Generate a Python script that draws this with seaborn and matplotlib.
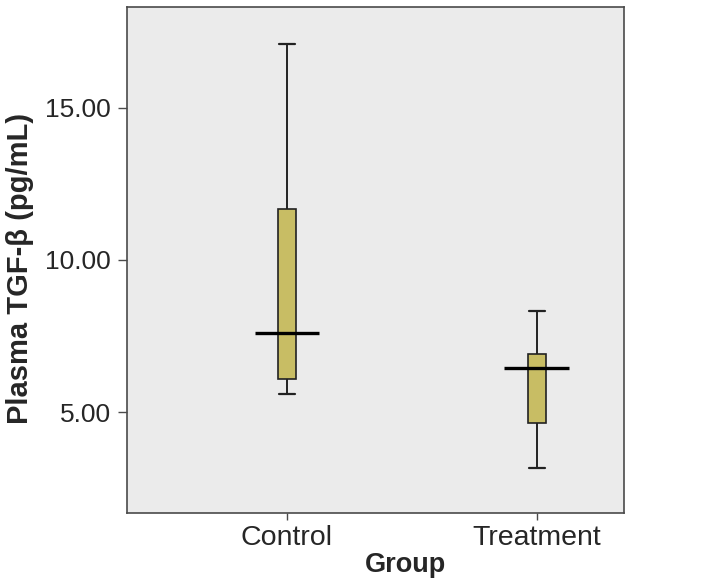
import numpy as np
import pandas as pd
import matplotlib
matplotlib.use("Agg")
import matplotlib.pyplot as plt
import seaborn as sns

groups = ["Control", "Treatment"]
# five-number summaries: min, Q1, median, Q3, max
control_vals = [5.59, 6.08, 7.61, 11.67, 17.07]
treatment_vals = [3.16, 4.64, 6.44, 6.90, 8.33]
medians = [7.61, 6.44]
yticks = [5.0, 10.0, 15.0]
ytick_labels = ["5.00", "10.00", "15.00"]

df = pd.DataFrame({
    "Group": [groups[0]] * len(control_vals) + [groups[1]] * len(treatment_vals),
    "Value": control_vals + treatment_vals,
})

sns.set_style("white")
plt.rcParams["font.family"] = ["Liberation Sans", "DejaVu Sans"]

fig = plt.figure(figsize=(7.27, 5.85), dpi=100)
ax = fig.add_axes([0.1747, 0.1231, 0.6836, 0.8649])
ax.set_facecolor("#ebebeb")

edge = "#222222"
sns.boxplot(data=df, x="Group", y="Value", order=groups, ax=ax,
            color="#c8bd64", width=0.072, whis=np.inf, linewidth=1.2,
            linecolor=edge, saturation=1,
            boxprops=dict(edgecolor=edge, facecolor="#c8bd64"),
            whiskerprops=dict(color=edge, linewidth=1.4),
            capprops=dict(color=edge, linewidth=1.6),
            medianprops=dict(linewidth=0))

# widen caps
for ln in ax.lines:
    x, y = ln.get_data()
    x = np.asarray(x, dtype=float)
    y = np.asarray(y, dtype=float)
    if len(x) == 2 and y[0] == y[1] and ln.get_linewidth() > 0:
        c = x.mean()
        ln.set_xdata([c - 0.033, c + 0.033])

# extended median lines (SPSS style)
ax.hlines(medians, np.arange(len(groups)) - 0.13, np.arange(len(groups)) + 0.13,
          colors="black", linewidth=2.4, zorder=5)

ax.set_xlim(-0.64, 1.348)
ax.set_ylim(1.69, 18.3)
ax.set_yticks(yticks)
ax.set_yticklabels(ytick_labels)

for s in ax.spines.values():
    s.set_visible(True)
    s.set_color("#4a4a4a")
    s.set_linewidth(1.2)

ax.tick_params(axis="y", which="major", direction="out", length=6.5,
               width=1, color="#4a4a4a", labelsize=19, pad=5, left=True)
ax.tick_params(axis="x", which="major", direction="out", length=5,
               width=1, color="#4a4a4a", labelsize=20.5, pad=4, bottom=True)
ax.set_xlabel("Group", fontsize=19.5, fontweight="bold")
ax.set_ylabel("Plasma TGF-β (pg/mL)", fontsize=21, fontweight="bold")
ax.xaxis.set_label_coords(0.56, -0.078)
ax.yaxis.set_label_coords(-0.187, 0.484)

fig.savefig("out.png", dpi=100)
